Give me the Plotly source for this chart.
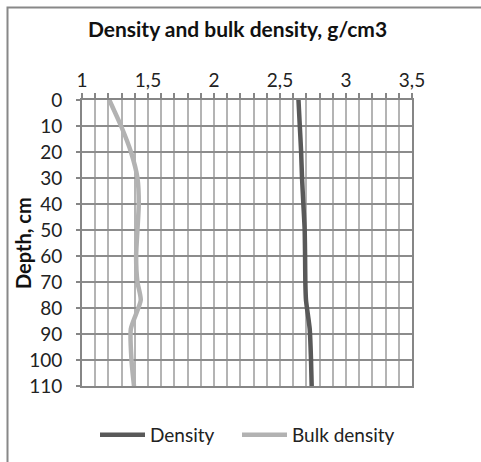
import plotly.graph_objects as go

# Data
depth_cm = [0, 10, 20, 30, 40, 50, 60, 70, 77, 88, 100, 110]
density = [2.64, 2.65, 2.66, 2.667, 2.677, 2.687, 2.69, 2.692, 2.697, 2.725, 2.735, 2.74]
bulk_density = [1.207, 1.296, 1.371, 1.42, 1.43, 1.42, 1.41, 1.42, 1.445, 1.37, 1.375, 1.394]

x_tickvals = [1, 1.5, 2, 2.5, 3, 3.5]
x_ticktext = ["1", "1,5", "2", "2,5", "3", "3,5"]
y_tickvals = [0, 10, 20, 30, 40, 50, 60, 70, 80, 90, 100, 110]

FONT = "Lato"
W, H = 481, 462
L, R, T, B = 82, 69, 100, 76

fig = go.Figure()
fig.add_trace(go.Scatter(
    x=density, y=depth_cm, name="Density", mode="lines", legend="legend",
    line=dict(color="#595959", width=4.5, shape="spline", smoothing=0.6),
))
fig.add_trace(go.Scatter(
    x=bulk_density, y=depth_cm, name="Bulk density", mode="lines", legend="legend2",
    line=dict(color="#b2b2b2", width=4.5, shape="spline", smoothing=0.6),
))

pw = W - L - R
ph = H - T - B
# outer chart border (left and top visible; extends beyond window)
fig.add_shape(type="rect", xref="paper", yref="paper", layer="below",
              x0=(7.5 - L) / pw, x1=(W + 20 - L) / pw,
              y0=(T + ph - (H + 20)) / ph, y1=(T + ph - 7.5) / ph,
              line=dict(color="#888888", width=2), fillcolor="rgba(0,0,0,0)")

# y-axis title placed as in the reference
fig.add_annotation(text="<b>Depth, cm</b>", textangle=-90, showarrow=False,
                   xref="paper", yref="paper", x=(23 - L) / pw, y=(T + ph - 243) / ph,
                   xanchor="center", yanchor="middle",
                   font=dict(family=FONT, size=20, color="#111111"))

legend_style = dict(orientation="h", xanchor="left",
                    y=(T + ph - 435) / ph, yanchor="middle",
                    font=dict(family=FONT, size=19, color="#222222"),
                    itemwidth=45, bgcolor="rgba(0,0,0,0)")

fig.update_layout(
    width=W, height=H,
    margin=dict(l=L, r=R, t=T, b=B, autoexpand=False),
    paper_bgcolor="white", plot_bgcolor="white",
    font=dict(family=FONT, size=19, color="#222222"),
    title=dict(text="<b>Density and bulk density, g/cm3</b>",
               x=237.5 / W, xanchor="center", y=1 - 30 / H, yanchor="middle",
               font=dict(family=FONT, size=21, color="#111111")),
    showlegend=True,
    legend=dict(x=(100 - 5 - L) / pw, **legend_style),
    legend2=dict(x=(242 - 5 - L) / pw, **legend_style),
    xaxis=dict(
        side="top", range=[1, 3.5], tickmode="array",
        tickvals=x_tickvals, ticktext=x_ticktext,
        showgrid=True, gridcolor="#b4b4b4", gridwidth=2,
        ticks="outside", ticklen=5, tickwidth=2, tickcolor="#868686",
        minor=dict(dtick=0.1, showgrid=True, gridcolor="#b4b4b4", gridwidth=2,
                   ticks="outside", ticklen=5, tickwidth=2, tickcolor="#868686"),
        showline=True, linecolor="#868686", linewidth=2, mirror=True,
        zeroline=False, ticklabelstandoff=-2,
        tickfont=dict(family=FONT, size=19, color="#222222"),
    ),
    yaxis=dict(
        range=[110, 0], tickmode="array", tickvals=y_tickvals,
        showgrid=True, gridcolor="#8c8c8c", gridwidth=2,
        ticks="outside", ticklen=4, tickwidth=2, tickcolor="#868686",
        showline=True, linecolor="#868686", linewidth=2, mirror=True,
        zeroline=False, ticklabelstandoff=10,
        tickfont=dict(family=FONT, size=19, color="#222222"),
    ),
)

fig.write_html("out.html",
               config={"displayModeBar": False},
               post_script="document.body.style.margin='0';"
                           "document.body.style.overflow='hidden';")
